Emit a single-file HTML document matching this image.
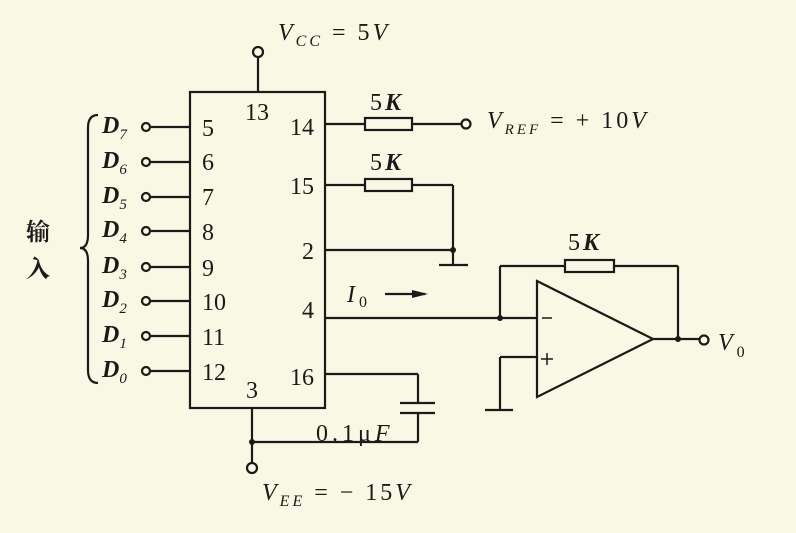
<!DOCTYPE html>
<html><head><meta charset="utf-8"><style>
html,body{margin:0;padding:0;background:#f9f8e4;}
svg{display:block}
text{font-family:"Liberation Serif","Noto Serif CJK SC",serif;fill:#1a1a1a}
.i{font-style:italic}
</style></head><body>
<svg width="796" height="533" viewBox="0 0 796 533" xmlns="http://www.w3.org/2000/svg">
<rect width="796" height="533" fill="#f9f8e4"/>
<g stroke="#1a1a1a" stroke-width="2.2" fill="none">
<rect x="190" y="92" width="135" height="316"/>
<line x1="258" y1="57" x2="258" y2="92"/>
<circle cx="258" cy="52" r="5"/>
<line x1="151" y1="127" x2="190" y2="127"/>
<line x1="151" y1="162" x2="190" y2="162"/>
<line x1="151" y1="197" x2="190" y2="197"/>
<line x1="151" y1="231" x2="190" y2="231"/>
<line x1="151" y1="267" x2="190" y2="267"/>
<line x1="151" y1="301" x2="190" y2="301"/>
<line x1="151" y1="336" x2="190" y2="336"/>
<line x1="151" y1="371" x2="190" y2="371"/>
<circle cx="146" cy="127" r="4"/><circle cx="146" cy="162" r="4"/><circle cx="146" cy="197" r="4"/><circle cx="146" cy="231" r="4"/>
<circle cx="146" cy="267" r="4"/><circle cx="146" cy="301" r="4"/><circle cx="146" cy="336" r="4"/><circle cx="146" cy="371" r="4"/>
<path d="M98 115 Q88 115 88 128 L88 235 Q88 248 80 248 Q88 248 88 261 L88 370 Q88 383 98 383"/>
<line x1="325" y1="124" x2="365" y2="124"/>
<rect x="365" y="118" width="47" height="12"/>
<line x1="412" y1="124" x2="461" y2="124"/>
<circle cx="466" cy="124" r="4.5"/>
<line x1="325" y1="185" x2="365" y2="185"/>
<rect x="365" y="179" width="47" height="12"/>
<line x1="412" y1="185" x2="453" y2="185"/>
<line x1="453" y1="185" x2="453" y2="265"/>
<line x1="325" y1="250" x2="453" y2="250"/>
<line x1="439" y1="265" x2="468" y2="265"/>
<line x1="325" y1="318" x2="537" y2="318"/>
<line x1="385" y1="294" x2="425" y2="294"/>
<path d="M537 281 L653 339 L537 397 Z"/>
<line x1="500" y1="318" x2="500" y2="266"/>
<line x1="500" y1="266" x2="565" y2="266"/>
<rect x="565" y="260" width="49" height="12"/>
<line x1="614" y1="266" x2="678" y2="266"/>
<line x1="678" y1="266" x2="678" y2="339"/>
<line x1="653" y1="339" x2="699" y2="339"/>
<circle cx="704" cy="340" r="4.5"/>
<line x1="537" y1="357" x2="500" y2="357"/>
<line x1="500" y1="357" x2="500" y2="410"/>
<line x1="485" y1="410" x2="513" y2="410"/>
<line x1="325" y1="374" x2="418" y2="374"/>
<line x1="418" y1="374" x2="418" y2="403"/>
<line x1="400" y1="403" x2="435" y2="403"/>
<line x1="400" y1="413" x2="435" y2="413"/>
<line x1="418" y1="413" x2="418" y2="442"/>
<line x1="252" y1="442" x2="418" y2="442"/>
<line x1="252" y1="408" x2="252" y2="463"/>
<circle cx="252" cy="468" r="5"/>
<line x1="542" y1="318" x2="552" y2="318" stroke-width="1.5"/>
<line x1="541" y1="359" x2="553" y2="359" stroke-width="1.5"/>
<line x1="547" y1="353" x2="547" y2="365" stroke-width="1.5"/>
</g>
<g fill="#1a1a1a">
<circle cx="453" cy="250" r="3"/><circle cx="500" cy="318" r="3"/><circle cx="678" cy="339" r="3"/><circle cx="252" cy="442" r="3"/>
<path d="M412 290 L428 294 L412 298 Z"/>
</g>
<g font-size="24">
<text x="278" y="40" class="i" letter-spacing="3">V<tspan font-size="16" dy="6">CC</tspan><tspan dy="-6" font-style="normal"> = 5</tspan>V</text>
<text x="245" y="120">13</text>
<text x="202" y="136">5</text><text x="202" y="170">6</text><text x="202" y="205">7</text><text x="202" y="240">8</text>
<text x="202" y="276">9</text><text x="202" y="310">10</text><text x="202" y="345">11</text><text x="202" y="380">12</text>
<text x="290" y="135">14</text><text x="290" y="194">15</text><text x="302" y="259">2</text><text x="302" y="318">4</text>
<text x="290" y="385">16</text><text x="246" y="398">3</text>
<text x="370" y="110" letter-spacing="3">5<tspan class="i" font-weight="bold">K</tspan></text>
<text x="370" y="170" letter-spacing="3">5<tspan class="i" font-weight="bold">K</tspan></text>
<text x="568" y="250" letter-spacing="3">5<tspan class="i" font-weight="bold">K</tspan></text>
<text x="487" y="128" class="i" letter-spacing="3">V<tspan font-size="15" dy="6">REF</tspan><tspan dy="-6" font-style="normal"> = + 10</tspan>V</text>
<text x="347" y="302" class="i">I<tspan font-size="16" dy="5" font-style="normal"> 0</tspan></text>
<text x="718" y="350" class="i">V<tspan font-size="16" dy="7" font-style="normal"> 0</tspan></text>
<text x="316" y="441" letter-spacing="4">0.1μ<tspan class="i">F</tspan></text>
<text x="262" y="500" class="i" letter-spacing="3">V<tspan font-size="16" dy="6">EE</tspan><tspan dy="-6" font-style="normal"> = − 15</tspan>V</text>
<g class="i" font-weight="bold">
<text x="102" y="133">D<tspan font-size="15" dy="6" font-weight="normal">7</tspan></text>
<text x="102" y="168">D<tspan font-size="15" dy="6" font-weight="normal">6</tspan></text>
<text x="102" y="203">D<tspan font-size="15" dy="6" font-weight="normal">5</tspan></text>
<text x="102" y="237">D<tspan font-size="15" dy="6" font-weight="normal">4</tspan></text>
<text x="102" y="273">D<tspan font-size="15" dy="6" font-weight="normal">3</tspan></text>
<text x="102" y="307">D<tspan font-size="15" dy="6" font-weight="normal">2</tspan></text>
<text x="102" y="342">D<tspan font-size="15" dy="6" font-weight="normal">1</tspan></text>
<text x="102" y="377">D<tspan font-size="15" dy="6" font-weight="normal">0</tspan></text>
</g>
<text x="26" y="240" font-family="'Noto Sans CJK SC',sans-serif" font-size="24" font-weight="bold">输</text>
<text x="26" y="277" font-family="'Noto Sans CJK SC',sans-serif" font-size="24" font-weight="bold">入</text>
</g>
</svg>
</body></html>
